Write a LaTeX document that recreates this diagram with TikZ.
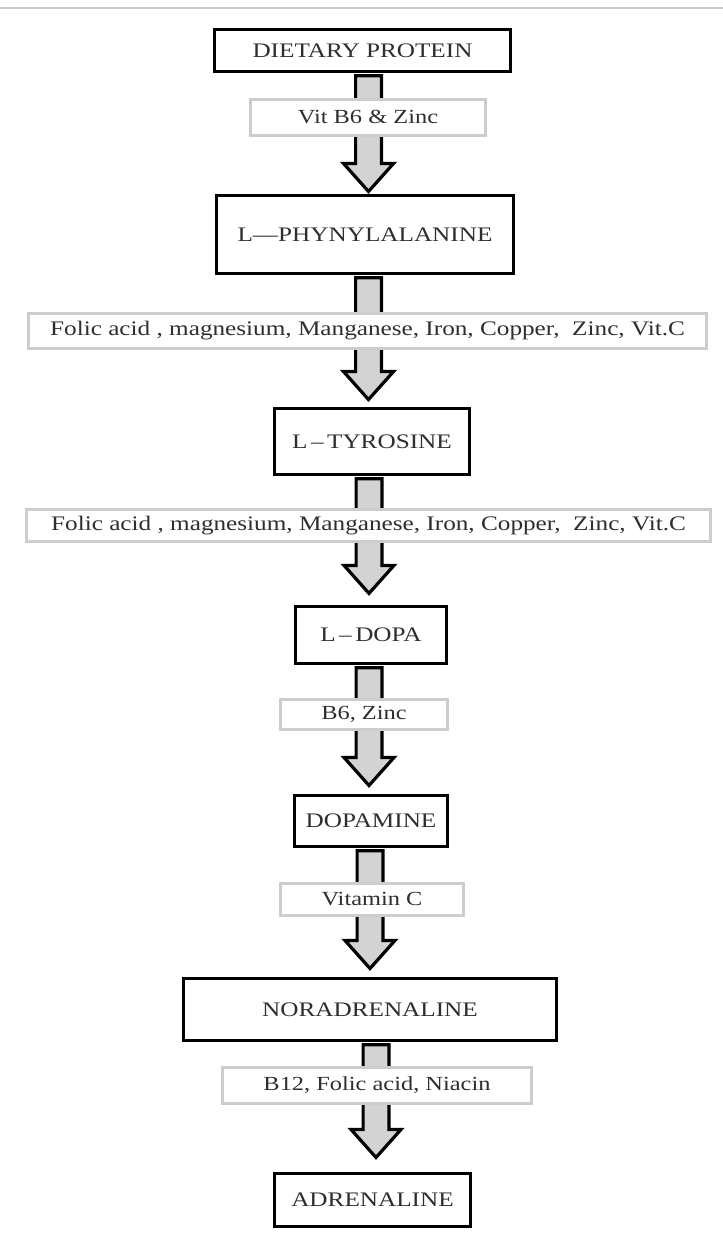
\documentclass[tikz,border=0pt]{standalone}
\usepackage{fontspec}
\setmainfont{Liberation Serif}[FakeStretch=1.22]
\usetikzlibrary{calc,backgrounds}
\definecolor{txt}{HTML}{2E2E2E}
\definecolor{arrfill}{HTML}{D3D3D3}
\definecolor{lblline}{HTML}{CDCDCD}
\tikzset{
  mainbox/.style={draw=black, line width=2.4pt, fill=white, inner sep=0pt, text=txt,
    font=\fontsize{15.5}{18}\selectfont},
  lblbox/.style={draw=lblline, line width=2.2pt, fill=white, inner sep=0pt, text=txt,
    font=\fontsize{15}{18}\selectfont},
  fatarr/.style={draw=black, line width=2.4pt, fill=arrfill, line join=miter},
  toprule/.style={draw=lblline, line width=1.2pt},
}
% #1 source node, #2 target node, #3 x of arrow axis (px), #4 gap of tip above target (pt)
\newcommand\fatarrow[4]{%
  \draw[fatarr] let \p1=(#1.south), \p2=(#2.north) in
    (#3-12.9,\y1-2pt) -- (#3-12.9,\y2+#4+21pt) -- (#3-25,\y2+#4+21pt) -- (#3,\y2+#4)
    -- (#3+25,\y2+#4+21pt) -- (#3+12.9,\y2+#4+21pt) -- (#3+12.9,\y1-2pt) -- cycle;
}
\begin{document}
\begin{tikzpicture}[x=0.75pt,y=-0.75pt]
\useasboundingbox (0,0) rectangle (723,1234);
\coordinate (ruleL) at (0,8);
\coordinate (ruleR) at (723,8);
\draw[toprule] (ruleL) -- (ruleR);

% main boxes
\node[mainbox, minimum width=221.85pt, minimum height=31.35pt] (dp)  at (362.5,50.5)  {DIETARY PROTEIN};
\node[mainbox, minimum width=222.6pt,  minimum height=58.35pt] (phe) at (365,234.5)   {L—PHYNYLALANINE};
\node[mainbox, minimum width=146.1pt,  minimum height=49.35pt] (tyr) at (372,441.5)   {L\,–\,TYROSINE};
\node[mainbox, minimum width=113.1pt,  minimum height=42.6pt]  (dopa) at (371,635)    {L\,–\,DOPA};
\node[mainbox, minimum width=114.6pt,  minimum height=38.1pt]  (dopamine) at (371,821) {DOPAMINE};
\node[mainbox, minimum width=279.6pt,  minimum height=46.35pt] (nor) at (370,1009.5)  {NORADRENALINE};
\node[mainbox, minimum width=146.85pt, minimum height=39.6pt]  (adr) at (372.5,1200)  {ADRENALINE};

% arrows behind
\begin{scope}[on background layer]
\fatarrow{dp}{phe}{368.5}{1.9pt}
\fatarrow{phe}{tyr}{368.5}{5.6pt}
\fatarrow{tyr}{dopa}{369}{8.7pt}
\fatarrow{dopa}{dopamine}{369}{6.4pt}
\fatarrow{dopamine}{nor}{370}{6.4pt}
\fatarrow{nor}{adr}{376}{10.9pt}
\end{scope}

% cofactor labels
\node[lblbox, minimum width=176.3pt, minimum height=27.05pt] (vitb6) at (368,117.5) {Vit B6 \& Zinc};
\node[lblbox, minimum width=508.55pt, minimum height=26.3pt, font=\fontsize{15.5}{18}\selectfont] (folicA) at (367.5,331)
  {Folic acid , magnesium, Manganese, Iron, Copper,\ \ Zinc, Vit.C};
\node[lblbox, minimum width=513.05pt, minimum height=24.05pt, font=\fontsize{15.5}{18}\selectfont] (folicB) at (368.5,525.5)
  {Folic acid , magnesium, Manganese, Iron, Copper,\ \ Zinc, Vit.C};
\node[lblbox, minimum width=125.3pt, minimum height=22.55pt] (b6z) at (364,714.5) {B6, Zinc};
\node[lblbox, minimum width=137.3pt, minimum height=24.05pt] (vitc) at (372,899.5) {Vitamin C};
\node[lblbox, minimum width=231.8pt, minimum height=27.05pt] (b12) at (377,1085.5) {B12, Folic acid, Niacin};
\end{tikzpicture}
\end{document}
